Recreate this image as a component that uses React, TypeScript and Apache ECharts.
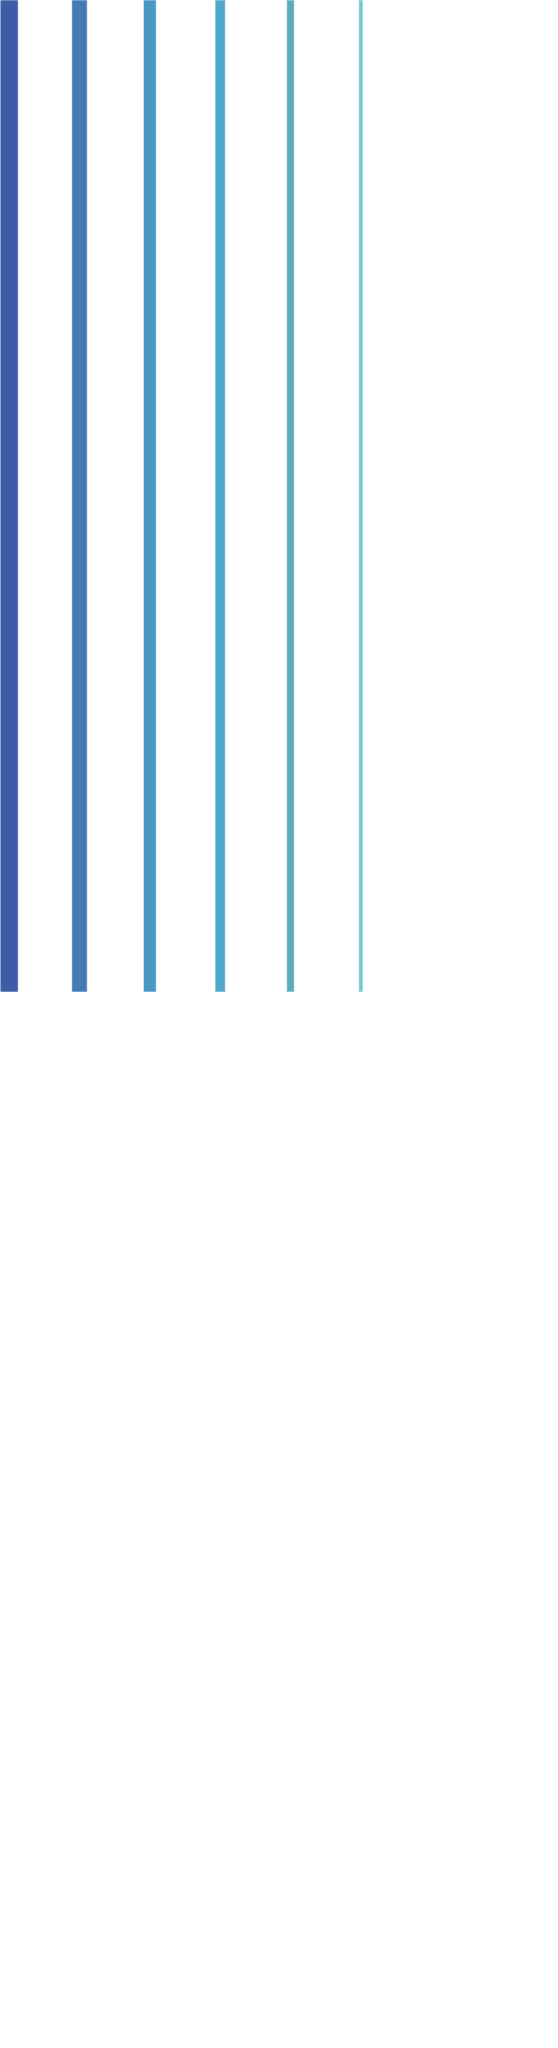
import React, { useEffect, useRef } from "react";
import * as echarts from "echarts";

const categories = ["A", "B", "C", "D", "E", "F"];
const values = [100, 100, 100, 100, 100, 100];
const barWidths = [18, 15.4, 12.8, 10.2, 7.6, 4.2];
const colors = ["#3D5CA6", "#427BB6", "#4A97C6", "#4FA7C9", "#5BAEB9", "#73C8D3"];

export default function App() {
	const chartRef = useRef<HTMLDivElement>(null);

	useEffect(() => {
		if (!chartRef.current) return;
		const chart = echarts.init(chartRef.current, null, { renderer: "svg" });

		chart.setOption({
			animation: false,
			grid: { left: 0, top: 0, width: 422, height: 992 },
			xAxis: { type: "category", data: categories, show: false },
			yAxis: { type: "value", min: 0, max: 100, show: false },
			series: [
				{
					type: "custom",
					data: values.map((v, i) => [i, v]),
					renderItem: (params: any, api: any) => {
						const i = params.dataIndex;
						const top = api.coord([api.value(0), api.value(1)]);
						const base = api.coord([api.value(0), 0]);
						const w = barWidths[i];
						return {
							type: "rect",
							shape: { x: top[0] - w / 2, y: top[1], width: w, height: base[1] - top[1] },
							style: {
								fill: colors[i],
								stroke: "rgba(255,255,255,0.55)",
								lineWidth: 1,
							},
						};
					},
				},
			],
		});

		return () => chart.dispose();
	}, []);

	// the first bar sits on the page edge, so the chart box starts left of the window
	return (
		<div
			ref={chartRef}
			style={{ position: "absolute", left: -26.5, top: 0, width: 584, height: 2040 }}
		/>
	);
}
